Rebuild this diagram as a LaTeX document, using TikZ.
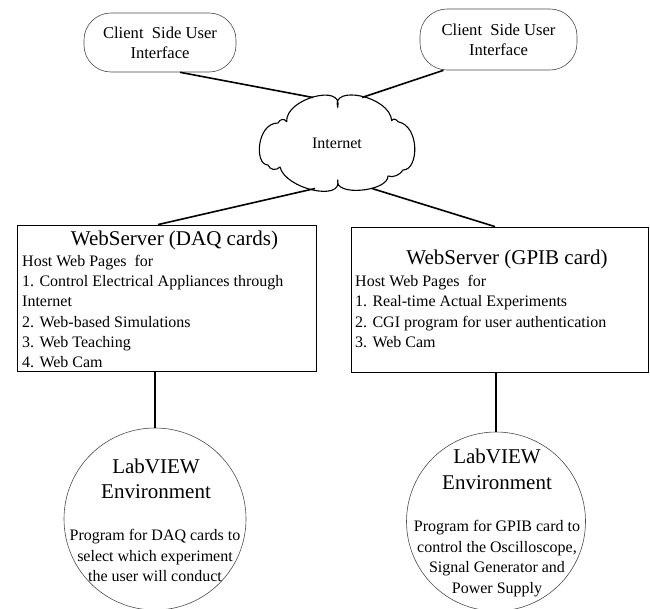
\documentclass[tikz,border=0pt]{standalone}
\usepackage{fontspec}
\setmainfont{Liberation Serif}
\begin{document}
\begin{tikzpicture}[x=1pt,y=-1pt,
  client/.style={draw=black!70, line width=0.6pt, rounded corners=27pt, inner sep=0pt, align=center, font=\fontsize{16.6}{20}\selectfont},
  srv/.style={draw=black, line width=0.8pt, inner sep=0pt},
  env/.style={draw=black!70, line width=0.6pt, circle, inner sep=0pt},
  cloudline/.style={draw=black, line width=1.1pt, line join=round},
  link/.style={line width=1.6pt},
  txt/.style={inner sep=0pt, font=\fontsize{16}{20.2}\selectfont},
  ttl/.style={inner sep=0pt, font=\fontsize{21}{25.5}\selectfont},
]
\useasboundingbox (0,0) rectangle (650,608);
\fill[white] (0,0) rectangle (650,608);

% client side user interfaces
\node[client, minimum width=152pt, minimum height=59pt] (cl1) at (160,42.5) {Client\ \ Side User\\Interface};
\node[client, minimum width=157pt, minimum height=61pt] (cl2) at (498.5,39.5) {Client\ \ Side User\\Interface};

% internet cloud
\draw[cloudline] (337.7,107.3)
  .. controls (343.8,83) and (285.1,98.7) .. (286.7,121.7)
  .. controls (284,118) and (280,119) .. (278,123)
  .. controls (256.7,123) and (254,165) .. (268,165)
  .. controls (270,170) and (276,171) .. (280,167)
  .. controls (285.3,189) and (343,202) .. (337.7,180)
  .. controls (333.8,196.7) and (388,191.7) .. (388,176)
  .. controls (393,178) and (400,175) .. (403,170)
  .. controls (419,170) and (420,126) .. (398,121.7)
  .. controls (396,119) and (393,118) .. (391.7,120.7)
  .. controls (390,96) and (330.5,84.4) .. (337.7,107.3) -- cycle;
\node[inner sep=0pt, font=\fontsize{16}{20}\selectfont] (net) at (337,143) {Internet};
\coordinate (netTL) at (313,97.5);
\coordinate (netTR) at (362,97.5);
\coordinate (netBL) at (315,188.5);
\coordinate (netBR) at (372,188.5);

% web servers
\node[srv, minimum width=299pt, minimum height=146pt] (b1) at (166.5,298) {};
\node[srv, minimum width=297pt, minimum height=145pt] (b2) at (499.5,299.5) {};

\node[ttl, anchor=base] (b1title) at (174.5,245) {WebServer (DAQ cards)};
\node[txt, anchor=base west] (b1text) at (22,266.5) {\begin{tabular}[t]{@{}l@{}}Host Web Pages\ \ for\\1. Control Electrical Appliances through\\Internet\\2. Web-based Simulations\\3. Web Teaching\\4. Web Cam\end{tabular}};

\node[ttl, anchor=base] (b2title) at (507,264) {WebServer (GPIB card)};
\node[txt, anchor=base west, font=\fontsize{16}{20.3}\selectfont] (b2text) at (355,286.5) {\begin{tabular}[t]{@{}l@{}}Host Web Pages\ \ for\\1. Real-time Actual Experiments\\2. CGI program for user authentication\\3. Web Cam\end{tabular}};

% LabVIEW environments
\node[env, minimum size=182pt] (ci1) at (155,519) {};
\node[env, minimum size=179pt] (ci2) at (496,521.5) {};

\node[ttl, anchor=base] (c1title) at (156,473) {\begin{tabular}[t]{@{}c@{}}LabVIEW\\Environment\end{tabular}};
\node[txt, anchor=base, font=\fontsize{16}{20.5}\selectfont] (c1text) at (155,540.5) {\begin{tabular}[t]{@{}c@{}}Program for DAQ cards to\\select which experiment\\the user will conduct\end{tabular}};

\node[ttl, anchor=base, font=\fontsize{21}{26}\selectfont] (c2title) at (497,463) {\begin{tabular}[t]{@{}c@{}}LabVIEW\\Environment\end{tabular}};
\node[txt, anchor=base, font=\fontsize{16}{20.5}\selectfont] (c2text) at (497,531.5) {\begin{tabular}[t]{@{}c@{}}Program for GPIB card to\\control the Oscilloscope,\\Signal Generator and\\Power Supply\end{tabular}};

% connectors
\draw[link] ([xshift=20pt]cl1.south) -- (netTL);
\draw[link] ([xshift=-55pt]cl2.south) -- (netTR);
\draw[link] (netBL) -- ([xshift=-8.5pt]b1.north);
\draw[link] (netBR) -- ([xshift=-4.5pt]b2.north);
\draw[link] (b1.south -| ci1.north) -- (ci1.north);
\draw[link] (b2.south -| ci2.north) -- (ci2.north);
\end{tikzpicture}
\end{document}
